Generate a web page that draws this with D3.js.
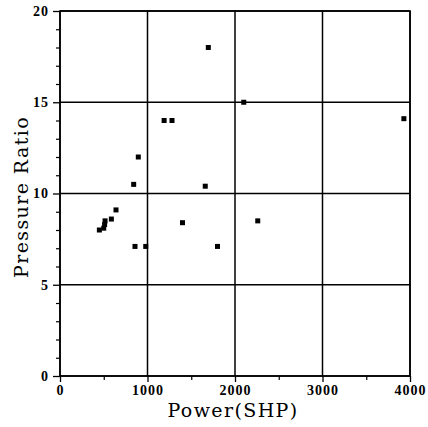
<!DOCTYPE html>
<html>
<head>
<meta charset="utf-8">
<script src="https://cdn.jsdelivr.net/npm/d3@7"></script>
<style>
  html, body { margin: 0; padding: 0; background: #fff; }
  svg { display: block; }
</style>
</head>
<body>
<script>
// Engine power (shaft horsepower) vs. compressor pressure ratio
const powerSHP = [450, 500, 510, 515, 587, 640, 842, 857, 895, 980, 1190, 1280, 1400, 1660, 1695, 1800, 2100, 2260, 3930];
const pressureRatio = [8.0, 8.1, 8.3, 8.5, 8.6, 9.1, 10.5, 7.1, 12.0, 7.1, 14.0, 14.0, 8.4, 10.4, 18.0, 7.1, 15.0, 8.5, 14.1];

const xTicks = [0, 1000, 2000, 3000, 4000];
const xMinorTicks = [500, 1500, 2500, 3500];
const yTicks = [0, 5, 10, 15, 20];
const yMinorTicks = [1, 2, 3, 4, 6, 7, 8, 9, 11, 12, 13, 14, 16, 17, 18, 19];

const W = 428, H = 427;
const plotLeft = 60, plotRight = 410, plotTop = 11, plotBottom = 376;
const serif = '"Liberation Serif", "DejaVu Serif", serif';

const x = d3.scaleLinear().domain([0, 4000]).range([plotLeft, plotRight]);
const y = d3.scaleLinear().domain([0, 20]).range([plotBottom, plotTop]);

const svg = d3.select("body").append("svg").attr("width", W).attr("height", H);

// grid lines at major ticks
svg.append("g").selectAll("line").data(xTicks).join("line")
  .attr("x1", d => x(d)).attr("x2", d => x(d))
  .attr("y1", plotTop).attr("y2", plotBottom)
  .attr("stroke", "#000").attr("stroke-width", 1.5);
svg.append("g").selectAll("line").data(yTicks).join("line")
  .attr("x1", plotLeft).attr("x2", plotRight)
  .attr("y1", d => y(d)).attr("y2", d => y(d))
  .attr("stroke", "#000").attr("stroke-width", 1.5);

// frame
svg.append("rect").attr("x", plotLeft).attr("y", plotTop)
  .attr("width", plotRight - plotLeft).attr("height", plotBottom - plotTop)
  .attr("fill", "none").attr("stroke", "#000").attr("stroke-width", 1.6);

function styleLabels(g) {
  g.attr("font-family", null).attr("font-size", null);
  g.select(".domain").remove();
  g.selectAll(".tick line").attr("stroke", "#000").attr("stroke-width", 1.3);
  g.selectAll(".tick text")
    .style("font-family", serif)
    .style("font-weight", "bold")
    .style("font-size", "14px")
    .style("letter-spacing", "1px")
    .attr("fill", "#000");
}

// x axis ticks (outward)
const xAxis = d3.axisBottom(x).tickValues(xTicks).tickSize(6).tickPadding(3).tickFormat(d3.format("d"));
const gx = svg.append("g").attr("transform", `translate(0,${plotBottom})`).call(xAxis);
styleLabels(gx);
const xMinor = d3.axisBottom(x).tickValues(xMinorTicks).tickSize(4).tickFormat("");
const gxm = svg.append("g").attr("transform", `translate(0,${plotBottom})`).call(xMinor);
gxm.select(".domain").remove();
gxm.selectAll(".tick line").attr("stroke", "#000").attr("stroke-width", 1.2);

// y axis ticks (outward)
const yAxis = d3.axisLeft(y).tickValues(yTicks).tickSize(7).tickPadding(4).tickFormat(d3.format("d"));
const gy = svg.append("g").attr("transform", `translate(${plotLeft},0)`).call(yAxis);
styleLabels(gy);
const yMinor = d3.axisLeft(y).tickValues(yMinorTicks).tickSize(4).tickFormat("");
const gym = svg.append("g").attr("transform", `translate(${plotLeft},0)`).call(yMinor);
gym.select(".domain").remove();
gym.selectAll(".tick line").attr("stroke", "#000").attr("stroke-width", 1.2);

// data points
const pts = d3.zip(powerSHP, pressureRatio);
const s = 5;
svg.append("g").selectAll("rect").data(pts).join("rect")
  .attr("x", d => x(d[0]) - s / 2).attr("y", d => y(d[1]) - s / 2)
  .attr("width", s).attr("height", s).attr("fill", "#000");

// axis titles
const titleStyle = t => t
  .style("font-family", '"DejaVu Serif", "Liberation Serif", serif')
  .style("font-size", "19px")
  .style("letter-spacing", "1.4px")
  .attr("fill", "#000")
  .attr("text-anchor", "middle");

svg.append("text").call(titleStyle)
  .attr("x", 233).attr("y", 417)
  .text("Power(SHP)");
svg.append("text").call(titleStyle)
  .attr("transform", `translate(28,197) rotate(-90)`)
  .text("Pressure Ratio");
</script>
</body>
</html>
